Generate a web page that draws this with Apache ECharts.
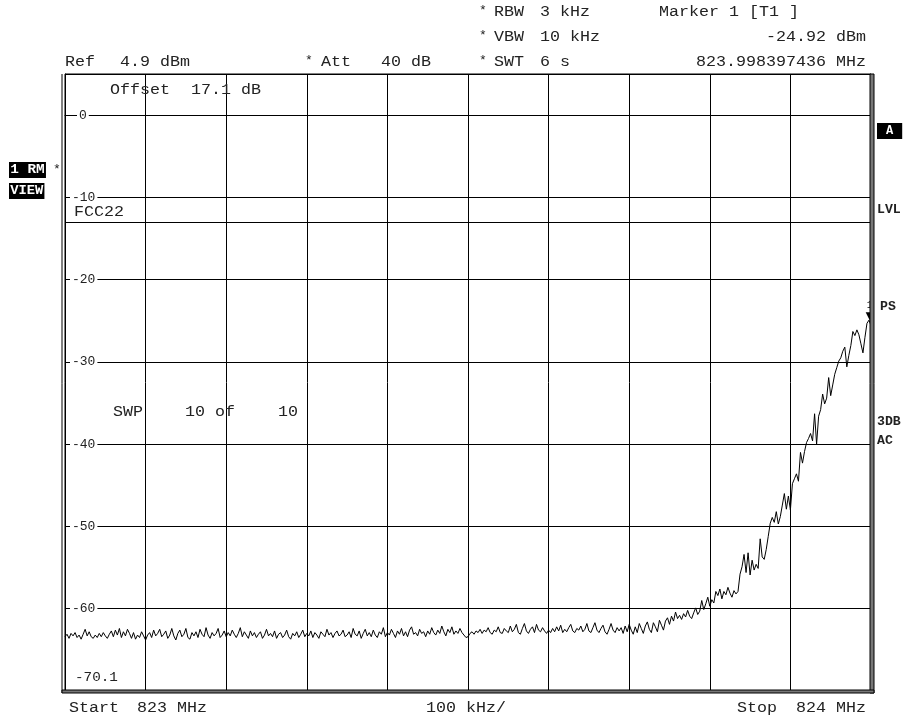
<!DOCTYPE html>
<html><head><meta charset="utf-8">
<script src="https://cdn.jsdelivr.net/npm/echarts@6/dist/echarts.min.js"></script>
<style>html,body{margin:0;padding:0;background:#fff}#c{width:906px;height:720px}</style>
</head><body><div id="c"></div>
<script>
// ---- data ----
const startMHz = 823;
const stopMHz = 824;
const spanStepMHz = 0.1;
const yMin = -70, yMax = 5;           // display range (Ref 4.9 dBm, bottom -70.1)
const yTickLabels = [0, -10, -20, -30, -40, -50, -60];
const limitLevel = -13;               // FCC22 limit line
const markerFreq = 823.998397436;
const markerLevel = -24.92;

// noise floor, sweep points 0..275
const floorLevels = [
 -63.4,-63.1,-63.6,-63.0,-63.3,-62.9,-63.5,-63.2,-63.7,-63.1,-62.5,-63.3,-62.8,-63.4,-63.6,-63.2,-63.5,-63.0,-63.4,-62.9,
 -63.3,-63.6,-63.1,-62.7,-63.4,-62.6,-63.2,-62.4,-63.5,-62.8,-63.3,-62.5,-63.0,-63.6,-62.9,-63.7,-63.2,-63.5,-62.8,-63.3,
 -63.8,-63.2,-62.9,-63.5,-62.6,-63.3,-63.0,-62.5,-63.4,-63.1,-62.7,-63.6,-63.2,-62.4,-63.3,-63.8,-63.0,-62.6,-63.4,-63.1,
 -62.4,-63.5,-63.7,-62.9,-63.3,-62.8,-63.5,-62.5,-63.1,-63.4,-62.3,-63.2,-63.6,-62.9,-63.3,-63.0,-62.4,-63.5,-63.2,-62.7,
 -63.4,-62.9,-63.3,-62.6,-63.1,-63.5,-63.0,-62.3,-63.4,-62.8,-63.2,-63.6,-62.7,-63.3,-62.9,-63.5,-63.1,-62.8,-63.6,-63.2,
 -62.5,-63.3,-63.0,-63.4,-62.7,-63.6,-63.1,-62.9,-63.5,-63.2,-62.6,-63.4,-63.7,-63.0,-63.3,-62.8,-63.5,-63.1,-62.6,-63.4,
 -63.0,-63.3,-62.7,-63.5,-62.9,-63.2,-63.6,-62.8,-63.1,-63.4,-62.5,-63.2,-62.9,-63.5,-63.0,-62.7,-63.3,-63.1,-62.6,-63.4,
 -63.2,-62.8,-63.5,-62.4,-63.1,-63.3,-62.7,-63.6,-63.0,-62.5,-63.3,-62.9,-63.4,-62.6,-63.2,-63.5,-62.8,-63.1,-62.3,-63.4,
 -62.9,-63.2,-62.5,-63.0,-63.5,-62.7,-63.1,-62.4,-63.3,-62.8,-63.4,-62.6,-62.2,-63.1,-62.9,-63.3,-62.5,-63.0,-62.8,-63.4,
 -62.7,-63.1,-62.3,-62.9,-63.2,-62.6,-63.0,-62.1,-62.8,-63.3,-62.5,-62.9,-62.2,-63.1,-62.7,-63.0,-62.4,-62.9,-63.2,-63.5,
 -63.4,-63.0,-62.8,-63.1,-62.7,-62.9,-62.5,-63.0,-62.6,-62.8,-62.3,-62.9,-63.1,-62.6,-62.8,-62.2,-62.9,-63.0,-62.4,-62.7,
 -62.9,-62.1,-62.8,-62.5,-61.9,-62.9,-63.1,-62.4,-61.8,-62.7,-63.0,-62.5,-62.2,-62.9,-61.9,-62.6,-62.8,-62.3,-62.7,-63.0,
 -62.6,-62.9,-62.4,-62.8,-62.2,-62.7,-62.0,-62.9,-62.5,-62.8,-62.3,-61.9,-62.7,-62.9,-62.4,-62.6,-62.1,-62.8,-62.5,-61.8,
 -62.7,-62.9,-62.3,-61.7,-62.6,-62.9,-62.4,-62.0,-62.8,-63.1,-62.5,-61.8,-62.6,-62.9,-62.3,-62.7
];
// band-edge rise, sweep points 276..400
const riseLevels = [
 -62.3,-63.0,-62.1,-62.8,-61.9,-62.6,-63.1,-62.2,-62.9,-61.8,-62.4,-63.0,-62.1,-61.6,-62.5,-62.9,-61.7,-62.2,-62.8,-61.4,-62.0,-62.6,-61.5,-61.1,-61.9,
 -60.9,-61.5,-60.4,-61.2,-60.8,-61.3,-60.6,-61.0,-60.2,-60.9,-61.2,-60.5,-59.9,-60.7,-60.3,
 -59.0,-60.1,-59.4,-58.6,-59.7,-58.9,-59.3,-57.9,
 -58.4,-57.6,-58.8,-57.9,-58.3,-57.4,-58.1,-58.6,-57.8,-58.2,-57.9,
 -55.8,-54.9,-53.4,-55.6,-53.2,-55.9,-54.1,-55.3,-54.6,-55.1,-51.5,
 -53.7,-54.0,-52.8,-51.2,-49.6,
 -48.9,-49.5,-48.2,-49.7,-48.8,-47.4,-46.0,
 -47.9,-46.3,-48.0,-44.8,
 -44.2,-43.6,-44.5,-41.0,-42.3,-40.9,-39.8,
 -39.3,-38.7,-39.6,-36.3,
 -40.0,-36.6,-35.8,-33.9,
 -35.1,-34.4,-31.9,-34.1,-32.8,-31.5,-30.7,
 -29.9,-29.5,-28.7,-28.2,-30.6,-29.2,-28.0,
 -26.3,-26.8,-26.1,-26.7,-27.8,-28.9,-27.0,-25.3,-24.92,-25.6
];

// ---- texts ----
const FONT = '"Liberation Mono", "DejaVu Sans Mono", monospace';
const chart = echarts.init(document.getElementById('c'));

const trace = floorLevels.concat(riseLevels);
const N = trace.length;
const traceData = trace.map((v, i) => [startMHz + i * (stopMHz - startMHz) / (N - 1), v]);

function txt(text, x, y, o) {
  o = o || {};
  return {
    type: 'text', x: x, y: y, z: 200, silent: true,
    scaleX: o.sx == null ? 1.19 : o.sx,
    style: {
      text: text,
      font: (o.bold ? 'bold ' : '') + (o.size || 14) + 'px ' + FONT,
      fill: o.color || '#222',
      align: o.align || 'left', textAlign: o.align || 'left',
      verticalAlign: 'middle', textVerticalAlign: 'middle',
      backgroundColor: o.bg, padding: o.pad
    }
  };
}
function ln(x1, y1, x2, y2, w, c) {
  return {type: 'line', z: 150, silent: true, shape: {x1, y1, x2, y2}, style: {stroke: c || '#000', lineWidth: w || 1}};
}

const graphics = [
  // header
  txt('*', 479, 11, {size: 13, sx: 1}),
  txt('RBW', 494, 12), txt('3 kHz', 540, 12),
  txt('*', 479, 36, {size: 13, sx: 1}),
  txt('VBW', 494, 37), txt('10 kHz', 540, 37),
  txt('*', 479, 61, {size: 13, sx: 1}),
  txt('SWT', 494, 62), txt('6 s', 540, 62),
  txt('Marker 1 [T1 ]', 659, 12),
  txt('-24.92 dBm', 866, 37, {align: 'right'}),
  txt('823.998397436 MHz', 866, 62, {align: 'right'}),
  txt('Ref', 65, 62), txt('4.9 dBm', 120, 62),
  txt('*', 305, 61, {size: 13, sx: 1}),
  txt('Att', 321, 62), txt('40 dB', 381, 62),
  // inside plot
  txt('Offset', 110, 90), txt('17.1 dB', 191, 90),
  txt('FCC22', 74, 212),
  txt('SWP', 113, 412), txt('10 of', 185, 412), txt('10', 278, 412),
  txt('-70.1', 75, 678, {size: 13, sx: 1.1}),
  // footer
  txt('Start', 69, 708), txt('823 MHz', 137, 708),
  txt('100 kHz/', 426, 708),
  txt('Stop', 737, 708), txt('824 MHz', 866, 708, {align: 'right'}),
  // left side boxes
  txt('1 RM', 9, 170, {size: 12, bold: true, color: '#fff', bg: '#000', pad: [2, 1, 2, 1], sx: 1.2}),
  txt('*', 53, 170, {size: 13, sx: 1}),
  txt('VIEW', 9, 191, {size: 12, bold: true, color: '#fff', bg: '#000', pad: [2, 1, 2, 1], sx: 1.15}),
  // right side labels
  txt('A', 877, 131, {size: 12, bold: true, color: '#fff', bg: '#000', pad: [2, 9, 2, 9], sx: 1}),
  txt('LVL', 877, 210, {size: 12, bold: true, sx: 1.1}),
  txt('PS', 880, 307, {size: 12, bold: true, sx: 1.1}),
  txt('3DB', 877, 422, {size: 12, bold: true, sx: 1.1}),
  txt('AC', 877, 441, {size: 12, bold: true, sx: 1.1}),
  // frame decorations
  ln(62, 74, 62, 693),
  {type: 'rect', z: 150, silent: true, shape: {x: 870, y: 74, width: 4, height: 619}, style: {fill: '#777', stroke: '#000', lineWidth: 1}},
  {type: 'rect', z: 150, silent: true, shape: {x: 62, y: 690, width: 812, height: 3}, style: {fill: '#777', stroke: '#000', lineWidth: 1}}
];

chart.setOption({
  animation: false,
  backgroundColor: '#fff',
  grid: {left: 65, top: 74, width: 806, height: 617, show: true, borderColor: '#000', borderWidth: 1, backgroundColor: 'transparent'},
  xAxis: {
    type: 'value', min: startMHz, max: stopMHz, interval: spanStepMHz,
    axisLine: {show: true, lineStyle: {color: '#000', width: 1}},
    axisTick: {show: false}, axisLabel: {show: false},
    splitLine: {show: true, lineStyle: {color: '#000', width: 1}}
  },
  yAxis: {
    type: 'value', min: yMin, max: yMax, interval: 10,
    axisLine: {show: true, lineStyle: {color: '#000', width: 1}},
    axisTick: {show: false},
    splitLine: {show: true, lineStyle: {color: '#000', width: 1}},
    axisLabel: {
      inside: true, margin: 5,
      formatter: function (v) {
        if (yTickLabels.indexOf(v) < 0) return '';
        return v === 0 ? '{s|}{b|0}' : '{b|' + v + '}';
      },
      rich: {
        s: {width: 7},
        b: {backgroundColor: '#fff', padding: [0, 2, 0, 2], fontSize: 13, fontFamily: FONT, color: '#222'}
      }
    }
  },
  series: [{
    type: 'line', data: traceData, symbol: 'none', smooth: false,
    lineStyle: {color: '#000', width: 1}, z: 5,
    markLine: {
      silent: true, symbol: ['none', 'none'], label: {show: false},
      lineStyle: {color: '#000', width: 1, type: 'solid'},
      data: [{yAxis: limitLevel}, {xAxis: 823.5}, {xAxis: 823.503}]
    },
    markPoint: {
      silent: true,
      data: [{coord: [markerFreq, markerLevel]}],
      symbol: 'triangle', symbolRotate: 180, symbolSize: [8, 8], symbolOffset: [0, -4],
      itemStyle: {color: '#000'},
      label: {show: true, position: 'top', distance: 2, formatter: '1', fontSize: 10, fontFamily: FONT, color: '#000'}
    }
  }],
  graphic: graphics
});
</script></body></html>
